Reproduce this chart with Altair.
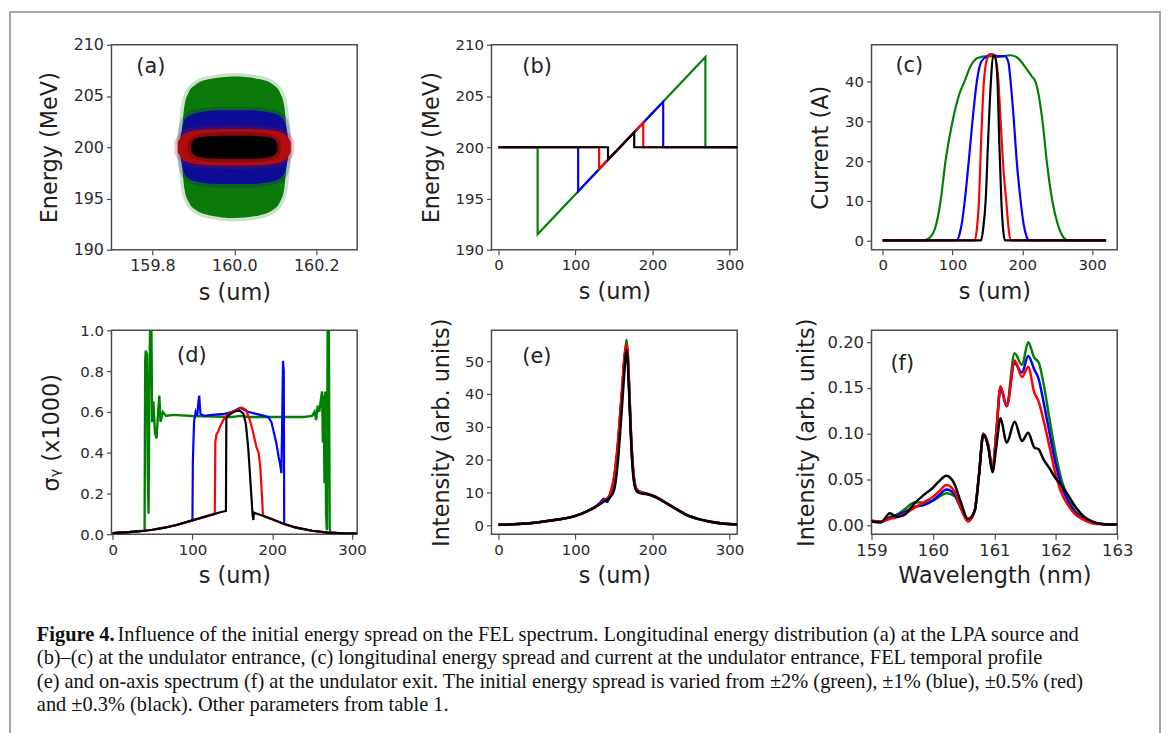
import altair as alt
import pandas as pd

FONT = "DejaVu Sans"
SERIES = ["green", "blue", "red", "black"]
LINE_COL = {"green": "#008000", "blue": "#0000ff", "red": "#ff0000", "black": "#000000"}
CLOUD_COL = {"green": "#0b7a0b", "blue": "#0d0d98", "red": "#b00c0c", "black": "#000000"}

# ---------------- (a) longitudinal phase space at source (cloud outlines)
a_center = 200.0
a_s = {
    "green": [159.872, 159.878, 159.888, 159.905, 159.94, 160.0, 160.06, 160.095, 160.112, 160.122, 160.128],
    "blue":  [159.868, 159.876, 159.89, 159.92, 159.96, 160.0, 160.04, 160.08, 160.11, 160.124, 160.132],
    "red":   [159.862, 159.872, 159.885, 159.91, 159.95, 160.0, 160.05, 160.09, 160.115, 160.128, 160.138],
    "black": [159.895, 159.902, 159.915, 159.94, 159.97, 160.0, 160.03, 160.06, 160.085, 160.098, 160.105],
}
a_half = {
    "green": [1.5, 4.0, 5.3, 6.1, 6.65, 6.9, 6.65, 6.1, 5.3, 4.0, 1.5],
    "blue":  [0.8, 2.4, 3.1, 3.45, 3.6, 3.6, 3.6, 3.45, 3.1, 2.4, 0.8],
    "red":   [0.5, 1.1, 1.45, 1.65, 1.75, 1.78, 1.75, 1.65, 1.45, 1.1, 0.5],
    "black": [0.3, 0.75, 0.95, 1.08, 1.12, 1.13, 1.12, 1.08, 0.95, 0.75, 0.3],
}

# ---------------- (b) energy vs s at undulator entrance
b_s = {
    "green": [0, 50.9, 50.9, 268.7, 268.7, 320],
    "blue":  [0, 103.5, 103.5, 213.9, 213.9, 320],
    "red":   [0, 130.7, 130.7, 188.0, 188.0, 320],
    "black": [0, 142.3, 142.3, 176.3, 176.3, 320],
}
b_E = {
    "green": [200, 200, 191.5, 208.8, 200, 200],
    "blue":  [200, 200, 195.7, 204.45, 200, 200],
    "red":   [200, 200, 197.9, 202.4, 200, 200],
    "black": [200, 200, 198.8, 201.45, 200, 200],
}

# ---------------- (c) current
c_s = {
    "green": [0, 59, 66, 75, 83, 90, 100, 110, 117, 126, 136, 150, 165, 183, 195, 205, 213, 219, 229, 235, 243, 250, 258, 265, 320],
    "blue":  [0, 106, 110, 114, 117.6, 123.3, 128.6, 134.8, 141, 150, 155, 165, 175, 180, 183.3, 188, 192, 197.6, 202, 206, 210, 320],
    "red":   [0, 132, 135, 138, 141, 145, 150, 155, 160, 165, 169, 173, 177, 181, 184, 320],
    "black": [0, 141, 144, 147.5, 151, 155, 158, 161, 164.5, 167, 170, 173, 175, 320],
}
c_I = {
    "green": [0, 0, 0.5, 3, 10, 20, 30, 37, 40, 44, 46, 46.5, 46.3, 46.7, 45.8, 43.5, 41.5, 40, 30, 20, 10, 4.5, 1, 0, 0],
    "blue":  [0, 0, 1.5, 5, 10, 20, 30, 40, 45, 46.5, 47, 46.5, 46.5, 45, 40, 30, 20, 10, 4, 1, 0, 0],
    "red":   [0, 0, 3, 10, 25, 40, 46, 47, 46.5, 42, 30, 18, 10, 2, 0, 0],
    "black": [0, 0, 3, 10, 25, 40, 46.5, 46.5, 40, 25, 10, 2, 0, 0],
}

# ---------------- (d) slice energy spread
d_base_s = [0, 20, 40, 50, 65, 80, 100, 115, 128, 135, 142, 177, 180, 190, 200, 215, 230, 250, 270, 290, 306]
d_base_v = [0.005, 0.01, 0.017, 0.022, 0.032, 0.045, 0.068, 0.085, 0.1, 0.108, 0.114, 0.106, 0.102, 0.088, 0.073, 0.05, 0.032, 0.017, 0.008, 0.004, 0.003]
d_inner_s = {
    "green": [40, 40.8, 41.5, 43, 44, 45, 46, 47, 48.5, 49.5, 51, 53, 55, 57, 58.5, 60, 63, 67, 75, 100, 150, 160,
              170, 200, 240, 250, 253, 255, 257, 259, 261, 262.5, 263.5, 264.5, 265.5, 266.5, 267.5, 268.5, 269.5, 271, 272, 273],
    "blue":  [100, 100.5, 102, 104, 106, 107.5, 108.5, 110, 115, 125, 140, 150, 160, 170, 185, 195, 199, 202, 205, 208,
              210, 211.5, 212.5, 213.5, 214.5, 215],
    "red":   [128, 128.7, 130, 132, 135, 140, 145, 150, 156, 162, 167, 172, 176, 180, 183, 185, 187, 188.3, 189],
    "black": [142, 142.5, 146, 150, 155, 160, 164, 167, 170, 172, 174, 175.5, 176.5, 177],
}
d_inner_v = {
    "green": [0.017, 0.85, 0.9, 0.88, 0.3, 0.1, 0.7, 1.05, 1.05, 0.55, 0.65, 0.5, 0.47, 0.6, 0.68, 0.55, 0.6, 0.58, 0.585,
              0.58, 0.575, 0.58, 0.575, 0.575, 0.575, 0.58, 0.6, 0.56, 0.63, 0.6, 0.66, 0.7, 0.45, 0.68, 0.25, 0.7, 0.1,
              0.02, 1.05, 1.05, 0.03, 0.007],
    "blue":  [0.068, 0.35, 0.55, 0.6, 0.58, 0.65, 0.68, 0.59, 0.58, 0.585, 0.59, 0.6, 0.62, 0.6, 0.585, 0.575, 0.55,
              0.5, 0.45, 0.38, 0.34, 0.3, 0.55, 0.85, 0.8, 0.05],
    "red":   [0.1, 0.45, 0.49, 0.5, 0.53, 0.57, 0.59, 0.6, 0.61, 0.62, 0.61, 0.56, 0.5, 0.43, 0.4, 0.33, 0.2, 0.1, 0.092],
    "black": [0.114, 0.57, 0.585, 0.595, 0.605, 0.605, 0.59, 0.54, 0.42, 0.3, 0.18, 0.09, 0.07, 0.106],
}

# ---------------- (e) FEL temporal profile
e_s = [0, 25, 50, 75, 100, 115, 125, 132, 137, 141, 145, 150, 155, 158, 161, 163, 165, 166.5, 168, 170, 172, 174,
       176, 178, 181, 186, 195, 205, 215, 230, 245, 260, 275, 290, 310]
e_I = {
    "green": [0.1, 0.3, 0.8, 1.6, 2.8, 4.2, 5.4, 6.6, 7.5, 8.0, 9.5, 14, 24, 33, 42, 49, 54, 56.5, 52, 40, 28, 19, 14,
              11.5, 10.4, 9.9, 9.4, 8.5, 7.1, 5.0, 3.0, 1.8, 1.0, 0.5, 0.2],
    "blue":  [0.1, 0.3, 0.8, 1.6, 2.8, 4.2, 5.4, 6.8, 8.0, 7.0, 9.0, 14, 24, 33, 42, 49, 53, 54.5, 51, 40, 28, 19, 14,
              11.5, 10.6, 10.0, 9.4, 8.5, 7.1, 5.0, 3.0, 1.8, 1.0, 0.5, 0.2],
    "red":   [0.1, 0.3, 0.8, 1.6, 2.8, 4.2, 5.4, 6.6, 7.5, 8.0, 9.5, 14.5, 25, 34, 43, 50, 54, 55, 52, 41, 29, 20, 14.5,
              11.8, 10.4, 9.9, 9.4, 8.5, 7.1, 5.0, 3.0, 1.8, 1.0, 0.5, 0.2],
    "black": [0.1, 0.3, 0.8, 1.6, 2.8, 4.2, 5.4, 6.4, 7.2, 7.6, 8.5, 10.5, 19, 28, 38, 45, 51, 53.5, 49, 38, 27, 18,
              13, 11, 10, 9.6, 9.3, 8.4, 7.1, 5.0, 3.0, 1.8, 1.0, 0.5, 0.2],
}

# ---------------- (f) on-axis spectrum
f_wl = [159.0, 159.15, 159.3, 159.42, 159.55, 159.7, 159.85, 160.0, 160.1, 160.22, 160.35, 160.45, 160.57, 160.68,
        160.75, 160.82, 160.9, 160.97, 161.03, 161.1, 161.2, 161.33, 161.45, 161.55, 161.65, 161.72, 161.8, 161.9,
        162.0, 162.1, 162.2, 162.3, 162.45, 162.6, 162.8, 163.0]
f_I = {
    "green": [0.005, 0.004, 0.009, 0.012, 0.018, 0.025, 0.025, 0.027, 0.031, 0.035, 0.032, 0.019, 0.005, 0.016, 0.055,
              0.1, 0.087, 0.06, 0.1, 0.15, 0.132, 0.188, 0.175, 0.2, 0.183, 0.178, 0.155, 0.115, 0.077, 0.048, 0.03,
              0.017, 0.008, 0.003, 0.001, 0.0005],
    "blue":  [0.005, 0.004, 0.008, 0.011, 0.015, 0.02, 0.022, 0.027, 0.033, 0.039, 0.034, 0.02, 0.005, 0.016, 0.055,
              0.1, 0.087, 0.06, 0.1, 0.15, 0.13, 0.177, 0.167, 0.185, 0.17, 0.16, 0.135, 0.1, 0.066, 0.042, 0.026,
              0.015, 0.007, 0.003, 0.001, 0.0005],
    "red":   [0.004, 0.004, 0.007, 0.009, 0.013, 0.019, 0.025, 0.031, 0.037, 0.044, 0.037, 0.02, 0.004, 0.016, 0.055,
              0.1, 0.088, 0.062, 0.1, 0.152, 0.13, 0.18, 0.162, 0.173, 0.145, 0.135, 0.115, 0.085, 0.055, 0.034,
              0.022, 0.013, 0.006, 0.002, 0.001, 0.0005],
    "black": [0.004, 0.003, 0.013, 0.009, 0.012, 0.024, 0.033, 0.041, 0.048, 0.054, 0.045, 0.026, 0.007, 0.016, 0.055,
              0.099, 0.085, 0.058, 0.085, 0.117, 0.09, 0.113, 0.092, 0.101, 0.085, 0.083, 0.072, 0.062, 0.051, 0.043,
              0.033, 0.022, 0.01, 0.004, 0.001, 0.0007],
}

caption_label = "Figure 4."
caption_lines = [
    "Influence of the initial energy spread on the FEL spectrum. Longitudinal energy distribution (a) at the LPA source and",
    "(b)\u2013(c) at the undulator entrance, (c) longitudinal energy spread and current at the undulator entrance, FEL temporal profile",
    "(e) and on-axis spectrum (f) at the undulator exit. The initial energy spread is varied from \u00b12% (green), \u00b11% (blue), \u00b10.5% (red)",
    "and \u00b10.3% (black). Other parameters from table 1.",
]


# ---------------- helpers
def axis(values, fmt, title, size, tpad):
    return alt.Axis(values=values, format=fmt, title=title, grid=False, domain=False,
                    tickSize=5, tickColor="#4a4a4a", tickWidth=1.2,
                    labelFontSize=size, labelColor="#2b2b2b", labelFont=FONT, labelPadding=3,
                    labelFlush=False, labelOverlap=False,
                    titleFontSize=22.5, titleFont=FONT, titleFontWeight="normal",
                    titleColor="#1e1e1e", titlePadding=tpad)


def label(text, px, py):
    return alt.Chart(pd.DataFrame({"t": [text]})).mark_text(
        align="left", baseline="middle", font=FONT, fontSize=21, color="#222222"
    ).encode(x=alt.value(px), y=alt.value(py), text="t:N")


def line_layers(xs, ys, xdom, ydom, xax, yax, stroke, interp):
    layers = []
    for name in SERIES:
        df = pd.DataFrame({"x": xs[name], "v": ys[name], "i": list(range(len(xs[name])))})
        sw = stroke[name] if isinstance(stroke, dict) else stroke
        layers.append(
            alt.Chart(df).mark_line(color=LINE_COL[name], strokeWidth=sw, clip=True, interpolate=interp).encode(
                x=alt.X("x:Q", scale=alt.Scale(domain=xdom, nice=False, zero=False), axis=xax),
                y=alt.Y("v:Q", scale=alt.Scale(domain=ydom, nice=False, zero=False), axis=yax),
                order=alt.Order("i:Q"),
            )
        )
    return layers


s_ticks = [0, 100, 200, 300]


def XS(size):
    return axis(s_ticks, "d", "s (um)", size, 8)


# (a)
a_layers = []
for name in SERIES:
    df = pd.DataFrame({"s": a_s[name],
                       "lo": [a_center - hh for hh in a_half[name]],
                       "hi": [a_center + hh for hh in a_half[name]]})
    a_layers.append(
        alt.Chart(df).mark_area(fill=CLOUD_COL[name], fillOpacity=1, stroke=CLOUD_COL[name], strokeWidth=7,
                                strokeOpacity=0.22, interpolate="monotone", clip=True).encode(
            x=alt.X("s:Q", scale=alt.Scale(domain=[159.7, 160.3], nice=False, zero=False),
                    axis=axis([159.8, 160.0, 160.2], ".1f", "s (um)", 16, 8)),
            y=alt.Y("lo:Q", scale=alt.Scale(domain=[190, 210], nice=False, zero=False),
                    axis=axis([190, 195, 200, 205, 210], "d", "Energy (MeV)", 16, 12)),
            y2="hi:Q",
        )
    )
pa = alt.layer(*a_layers, label("(a)", 25, 22)).properties(width=247, height=206)

pb = alt.layer(*line_layers(b_s, b_E, [-9, 310], [190, 210], XS(15),
                            axis([190, 195, 200, 205, 210], "d", "Energy (MeV)", 15, 12), 2.2, "linear"),
               label("(b)", 31, 22)).properties(width=247, height=206)
pc = alt.layer(*line_layers(c_s, c_I, [-16, 336], [-2.35, 49.35], XS(15),
                            axis([0, 10, 20, 30, 40], "d", "Current (A)", 15, 12), 2.2, "monotone"),
               label("(c)", 24, 21)).properties(width=247, height=206)

# (d) : each series = base curve outside its bunch + its own inner trace
d_s, d_v = {}, {}
for name in SERIES:
    s0, s1 = d_inner_s[name][0], d_inner_s[name][-1]
    left = [(s, v) for s, v in zip(d_base_s, d_base_v) if s < s0]
    right = [(s, v) for s, v in zip(d_base_s, d_base_v) if s > s1]
    pts = left + list(zip(d_inner_s[name], d_inner_v[name])) + right
    d_s[name] = [p[0] for p in pts]
    d_v[name] = [p[1] for p in pts]

# caption and outer frame are drawn from panel (d)'s corner (they sit outside its plot area)
CAP_FONT = "Liberation Serif"
CAP_SIZE = 20.5
CAP_X0 = -75
CAP_Y0 = 306
CAP_DY = 23.6
frame = alt.Chart(pd.DataFrame({"k": [0]})).mark_rect(
    fill="transparent", stroke="#8c8c8c", strokeWidth=1.6, clip=False
).encode(x=alt.value(-102), x2=alt.value(1054), y=alt.value(-320), y2=alt.value(430))
cap_layers = [
    alt.Chart(pd.DataFrame({"t": [caption_label]})).mark_text(
        align="left", baseline="middle", font=CAP_FONT, fontSize=CAP_SIZE, fontWeight="bold", color="#111111"
    ).encode(x=alt.value(CAP_X0), y=alt.value(CAP_Y0), text="t:N")
]
for i, line in enumerate(caption_lines):
    cap_layers.append(
        alt.Chart(pd.DataFrame({"t": [line]})).mark_text(
            align="left", baseline="middle", font=CAP_FONT, fontSize=CAP_SIZE, color="#111111"
        ).encode(x=alt.value(CAP_X0 + 81 if i == 0 else CAP_X0), y=alt.value(CAP_Y0 + i * CAP_DY), text="t:N")
    )

pd_ = alt.layer(*line_layers(d_s, d_v, [-1.5, 306.5], [0, 1.0], XS(15),
                             axis([0.0, 0.2, 0.4, 0.6, 0.8, 1.0], ".1f", "\u03c3\u1d67 (x1000)", 15, 16),
                             {"green": 2.4, "blue": 2.2, "red": 2.2, "black": 2.2}, "linear"),
                label("(d)", 66, 26), frame, *cap_layers).properties(width=247, height=205)

e_x = {n: e_s for n in SERIES}
pe = alt.layer(*line_layers(e_x, e_I, [-9, 310], [-2.8, 59.4], XS(15),
                            axis([0, 10, 20, 30, 40, 50], "d", "Intensity (arb. units)", 15, 11), 2.5, "monotone"),
               label("(e)", 31, 27)).properties(width=247, height=205)

f_x = {n: f_wl for n in SERIES}
pf = alt.layer(*line_layers(f_x, f_I, [159, 163], [-0.0098, 0.213],
                            axis([159, 160, 161, 162, 163], "d", "Wavelength (nm)", 16.5, 6),
                            axis([0.0, 0.05, 0.10, 0.15, 0.20], ".2f", "Intensity (arb. units)", 16.5, 9),
                            2.5, "monotone"),
               label("(f)", 19, 34)).properties(width=247, height=205)

chart = alt.concat(
    pa, pb, pc, pd_, pe, pf,
    columns=3, spacing=alt.RowColnumber(row=81, column=135), bounds="flush",
).properties(
    padding=0, background="white"
).configure(font=FONT).configure_view(stroke="#4d4d4d", strokeWidth=1.5)

chart.save("out.html", embed_options={"renderer": "svg", "actions": False})
